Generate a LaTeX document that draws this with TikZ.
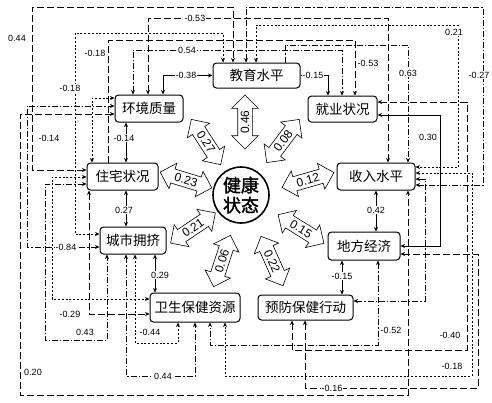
\documentclass[tikz,border=0pt]{standalone}
\usepackage{fontspec}
\setmainfont{Liberation Sans}
\newfontfamily\cjk{Noto Sans CJK SC}
\newfontfamily\cjkb{Noto Sans CJK SC}[FakeBold=1.6]
\usetikzlibrary{arrows.meta,shapes.arrows}
\begin{document}
\begin{tikzpicture}[x=1pt,y=-1pt,>={Stealth[length=4.5pt,width=4pt]},
  box/.style={draw,fill=white,rounded corners=3.5pt,line width=1pt,inner sep=0pt,font=\cjk\fontsize{13.5}{14}\selectfont},
  barrow/.style={double arrow,draw,fill=white,line width=0.6pt,double arrow head extend=6pt,inner xsep=2pt,inner ysep=7pt,minimum height=54pt},
  btext/.style={inner sep=0pt,font=\fontsize{12}{12}\selectfont},
  lab/.style={fill=white,inner sep=0.8pt,font=\fontsize{9}{9}\selectfont},
  ca/.style={line width=0.6pt,dash pattern=on 7pt off 3pt},
  cb/.style={line width=0.6pt,dash pattern=on 6pt off 2pt on 1.2pt off 2pt},
  cc/.style={line width=0.6pt,dash pattern=on 2pt off 1.8pt},
  cd/.style={line width=0.6pt}]
\useasboundingbox (0,0) rectangle (492,402);

% boxes
\node[box,minimum width=87pt,minimum height=25pt] (jy) at (256.5,75.5) {教育水平};
\node[box,minimum width=69pt,minimum height=26pt] (jyz) at (342.5,109) {就业状况};
\node[box,minimum width=68pt,minimum height=27pt] (hj) at (149,108.5) {环境质量};
\node[box,minimum width=71pt,minimum height=27pt] (zz) at (122.5,176.5) {住宅状况};
\node[box,minimum width=66pt,minimum height=27pt] (cs) at (133,240.5) {城市拥挤};
\node[box,minimum width=90pt,minimum height=29pt] (ws) at (195,307.5) {卫生保健资源};
\node[box,minimum width=95pt,minimum height=25pt] (yf) at (305.5,307.5) {预防保健行动};
\node[box,minimum width=72pt,minimum height=28pt] (df) at (364,246) {地方经济};
\node[box,minimum width=78pt,minimum height=27pt] (sr) at (376,176.5) {收入水平};

% centre
\node[circle,draw,line width=1.6pt,minimum size=56pt,inner sep=0pt,align=center,font=\cjkb\fontsize{18}{20}\selectfont] (hs) at (241,195) {健康\\状态};

\node[barrow,rotate=90] (a1) at (245,122) {};
\node[barrow,rotate=53] (a2) at (283,141) {};
\node[barrow,rotate=16] (a3) at (308,180) {};
\node[barrow,rotate=-32] (a4) at (301,229) {};
\node[barrow,rotate=-66] (a5) at (272,261) {};
\node[barrow,rotate=72] (a6) at (222,261) {};
\node[barrow,rotate=34] (a7) at (193,228) {};
\node[barrow,rotate=-17] (a8) at (186,180) {};
\node[barrow,rotate=-57] (a9) at (206,142) {};
\node[btext,rotate=90] (t1) at (a1.center) {0.46};
\node[btext,rotate=53] (t2) at (a2.center) {0.08};
\node[btext,rotate=16] (t3) at (a3.center) {0.12};
\node[btext,rotate=-32] (t4) at (a4.center) {0.15};
\node[btext,rotate=-66] (t5) at (a5.center) {0.22};
\node[btext,rotate=72] (t6) at (a6.center) {0.06};
\node[btext,rotate=34] (t7) at (a7.center) {0.21};
\node[btext,rotate=-17] (t8) at (a8.center) {0.23};
\node[btext,rotate=-57] (t9) at (a9.center) {0.27};

% top connectors
\draw[ca,<->] (hj.north -| 148,0) |- (388,18) -- (sr.north -| 388,0);
\draw[cb,<->] (hj.north -| 133,0) |- (342,50) -- (jyz.north -| 342,0);
\draw[cd,<->] (jy.west) -| (hj.north -| 163,0);
\draw[cd,->] (jy.east) -| (jyz.north -| 328,0);
\draw[cc,<->] (cs.west |- 0,234) -| (75,33) -| (jy.north -| 223,0);
\draw[ca,<->] (zz.west |- 0,170) -| (32,7) -| (jy.north -| 233,0);
\draw[cb,<->] (jy.north -| 246,0) -- (246,7) -| (483,185) -- (sr.east |- 0,185);
\draw[cc,<->] (jy.north -| 256,0) -- (256,25) -| (458,167) -- (sr.east |- 0,167);
\draw[ca,->] (zz.north -| 108,0) |- (355,40) -- (jyz.north -| 355,0);
\draw[cb,->] (jy.north -| 285,0) |- (408,45) -- (sr.north -| 408,0);

% right connectors
\draw[cd,<->] (jyz.east |- 0,115) -| (440,246) -- (df.east |- 0,246);
\draw[ca,<->] (jyz.east |- 0,102) -| (467,350) -| (yf.south -| 292,0);
\draw[cb,<->] (df.south -| 378,0) |- (210,345) -- (ws.south -| 210,0);
\draw[cd,<->] (df.south -| 342,0) -- (yf.north -| 342,0);
\draw[cd,<->] (sr.south -| 376,0) -- (df.north -| 376,0);
\draw[cc,<->] (sr.east |- 0,173) -| (472,376) -| (ws.south -| 225,0);
\draw[ca,<->] (df.east |- 0,254) -| (478,388) -| (yf.south -| 305,0);
\draw[cb,<->] (yf.east |- 0,301) -| (425,179) -- (sr.east |- 0,179);
\draw[cb,<->] (cs.south -| 126,0) |- (195,376) -- (ws.south -| 195,0);

% left connectors
\draw[cc,<->] (zz.north -| 92,0) |- (hj.west |- 0,98);
\draw[cb,<->] (cs.west |- 0,247) -| (27,106) -- (hj.west |- 0,106);
\draw[ca,<->] (hj.west |- 0,114) -| (20,395) -| (sr.south -| 408,0);
\draw[cc,<->] (zz.west |- 0,177) -| (52,299) -- (ws.west |- 0,299);
\draw[cb,<->] (zz.west |- 0,184) -| (45,340) -| (cs.south -| 107,0);
\draw[ca,<->] (zz.south -| 89,0) |- (ws.west |- 0,314);
\draw[cc,<->] (cs.south -| 135,0) |- (178,343) -- (ws.south -| 178,0);

% inner links
\draw[cd,<->] (hj.south -| 126,0) -- (zz.north -| 126,0);
\draw[cd,<->] (zz.south -| 126,0) -- (cs.north -| 126,0);
\draw[cd,<->] (cs.south -| 155,0) -- (ws.north -| 155,0);

% labels
\node[lab] (l1) at (195,18) {-0.53};
\node[lab] (l2) at (187,50) {0.54};
\node[lab] (l3) at (186,75.5) {-0.38};
\node[lab] (l4) at (313,75.5) {-0.15};
\node[lab] (l5) at (95,53) {-0.18};
\node[lab] (l6) at (17,38) {0.44};
\node[lab] (l7) at (479,75) {-0.27};
\node[lab] (l8) at (454,32) {0.21};
\node[lab] (l9) at (368,63) {-0.53};
\node[lab] (l10) at (408,73) {0.63};
\node[lab] (l11) at (428,137) {0.30};
\node[lab] (l12) at (450,335) {-0.40};
\node[lab] (l13) at (391,330) {-0.52};
\node[lab] (l14) at (342,276) {-0.15};
\node[lab] (l15) at (376,210) {0.42};
\node[lab] (l16) at (452,366) {-0.18};
\node[lab] (l17) at (332,388) {-0.16};
\node[lab] (l18) at (163,376) {0.44};
\node[lab] (l19) at (70,314) {-0.29};
\node[lab] (l20) at (150,332) {-0.44};
\node[lab] (l21) at (85,332) {0.43};
\node[lab] (l22) at (66,247) {-0.84};
\node[lab] (l23) at (49,138) {-0.14};
\node[lab] (l24) at (70,88) {-0.18};
\node[lab] (l25) at (33,372) {0.20};
\node[lab] (l26) at (124,138) {-0.14};
\node[lab] (l27) at (124,210) {0.27};
\node[lab] (l28) at (160,275) {0.29};
\end{tikzpicture}
\end{document}
